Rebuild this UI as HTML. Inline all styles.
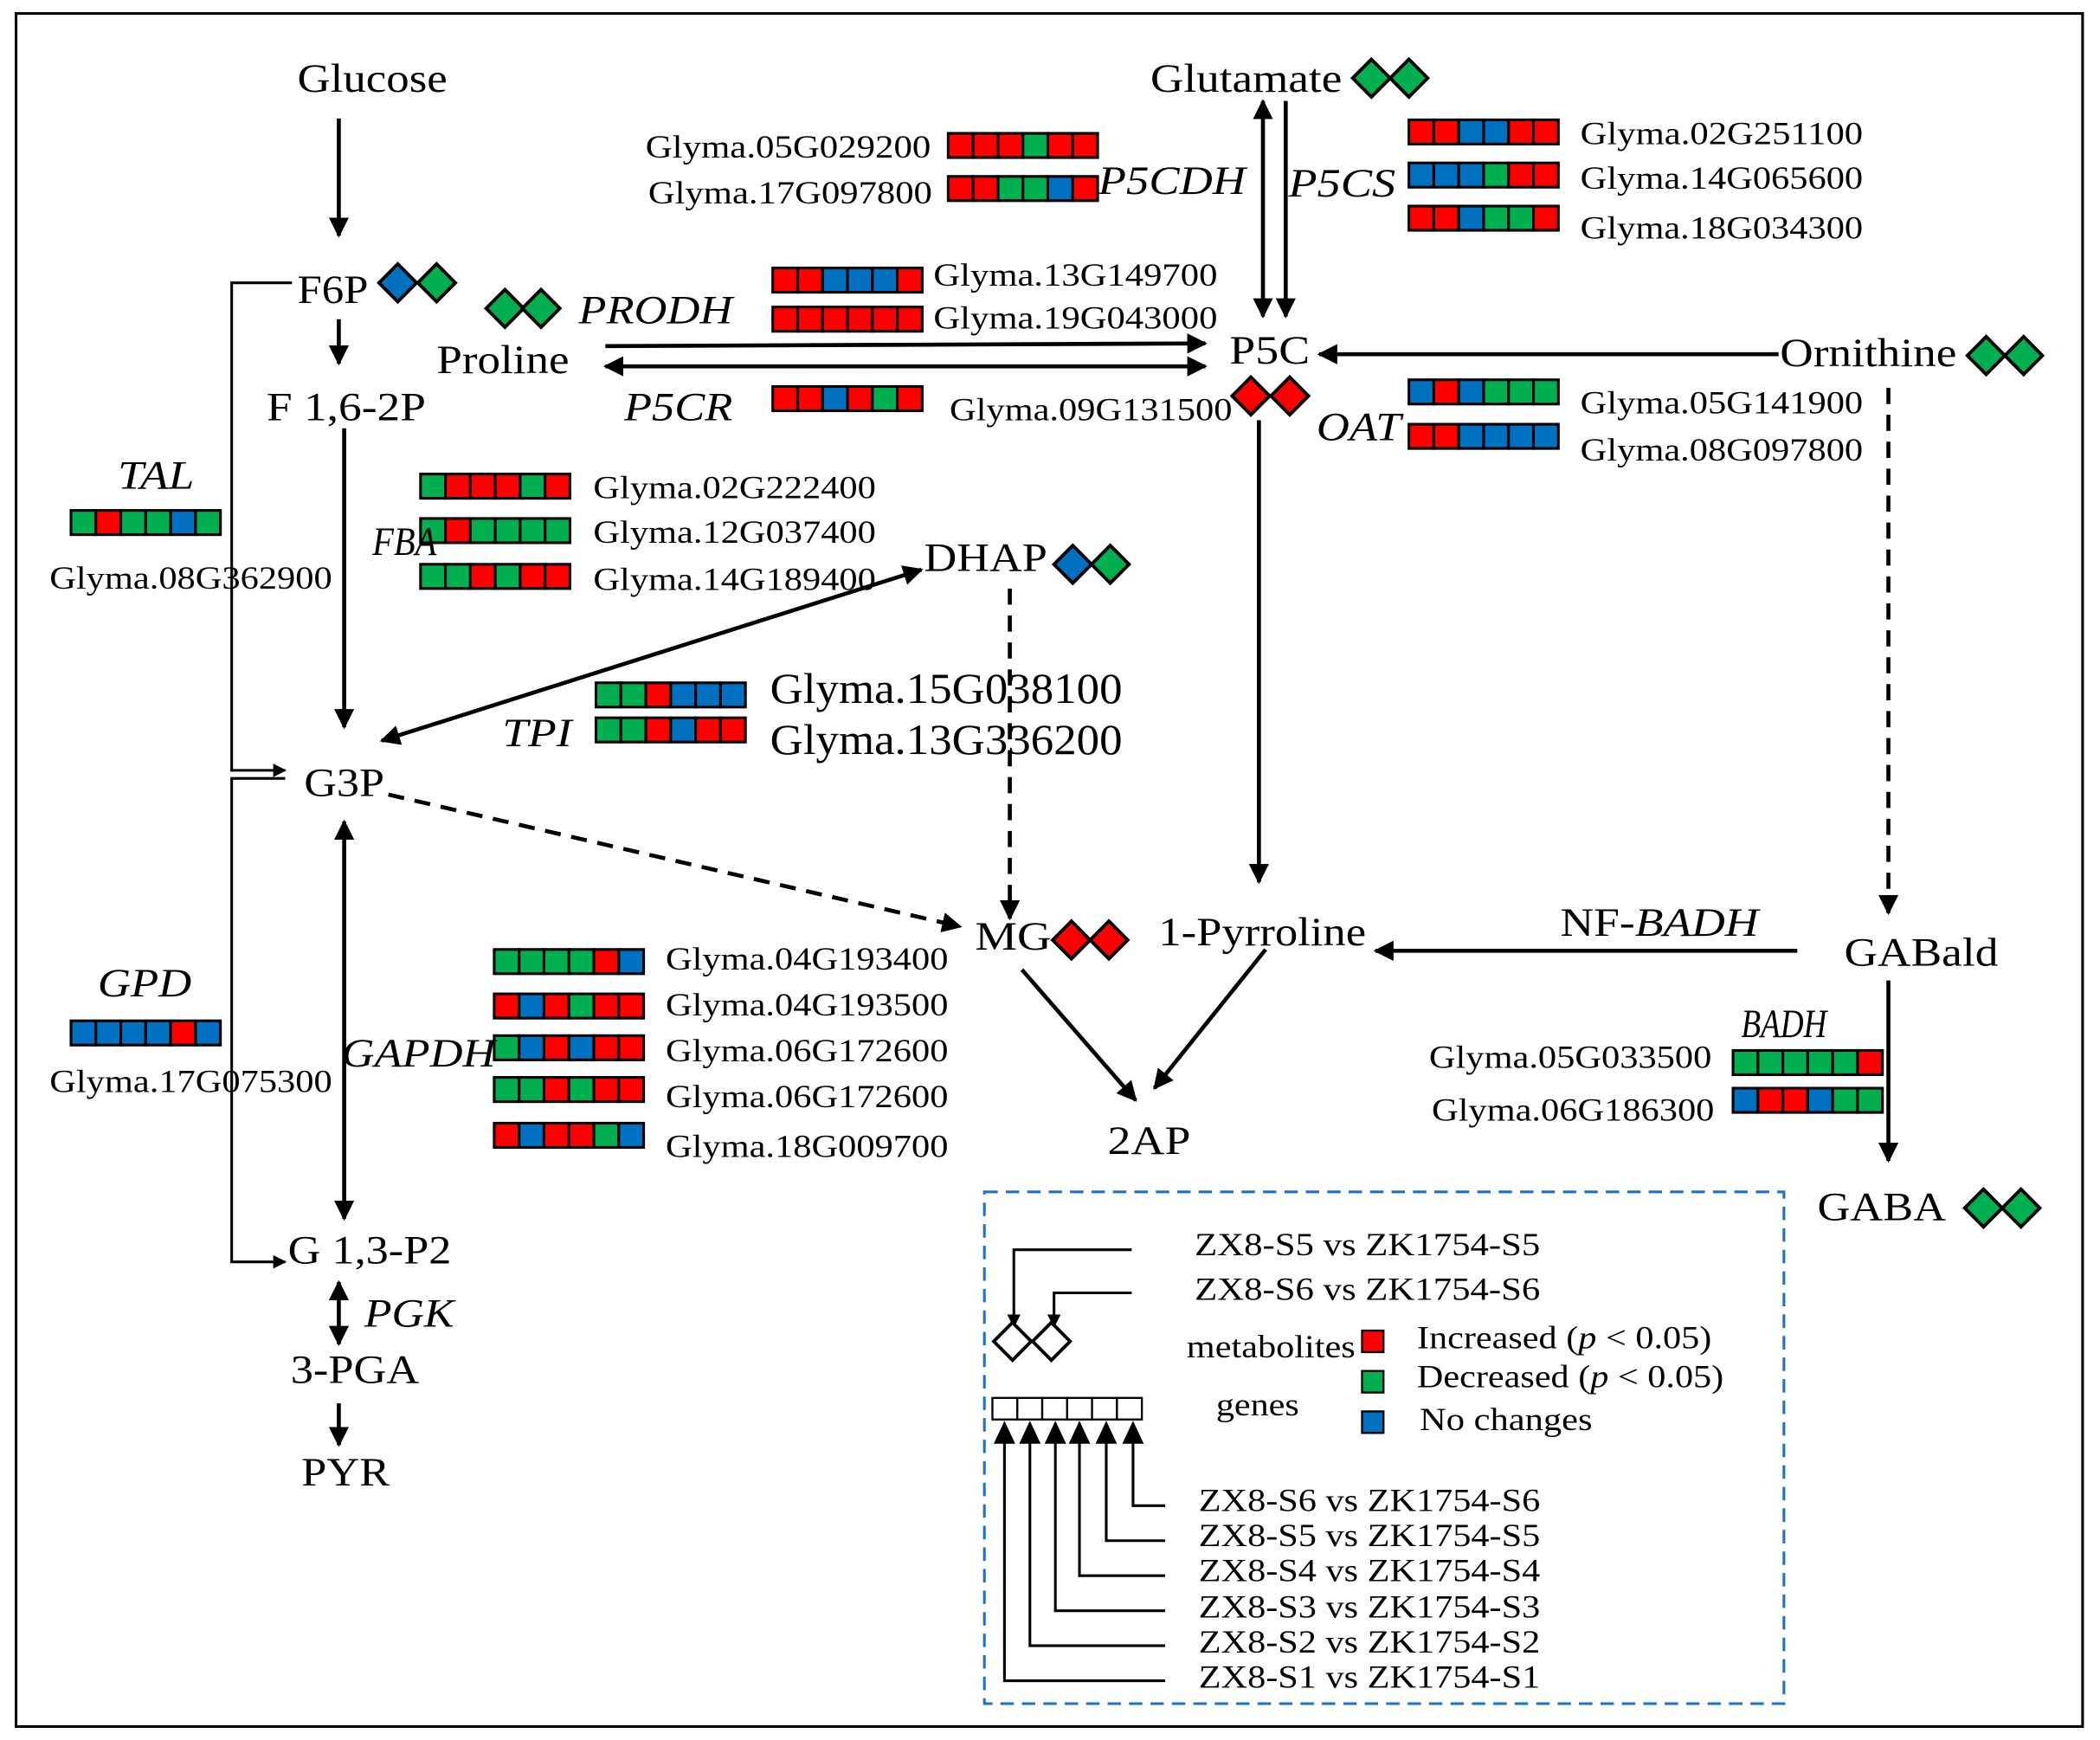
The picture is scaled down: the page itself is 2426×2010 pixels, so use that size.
<!DOCTYPE html>
<html><head><meta charset="utf-8"><style>
html,body{margin:0;padding:0;background:#fff;}
svg{display:block;}
.s{font-family:"Liberation Serif",serif;font-size:30px;fill:#000;}
.i{font-style:italic;}
.g{font-family:"Liberation Serif",serif;font-size:24px;fill:#000;}
.l{font-family:"Liberation Serif",serif;font-size:24px;fill:#000;}
</style></head><body>
<svg id="sv" width="2426" height="2010" viewBox="0 0 1568 1292" preserveAspectRatio="none" xmlns="http://www.w3.org/2000/svg">
<defs>
<marker id="a" viewBox="0 0 10 10" refX="9" refY="5" markerWidth="5" markerHeight="5" orient="auto-start-reverse" markerUnits="strokeWidth"><path d="M0,0 L10,5 L0,10 z" fill="#000"/></marker>
</defs>
<rect x="12" y="10" width="1543" height="1272" fill="#fff" stroke="#000" stroke-width="2"/>
<g stroke="#000" stroke-width="3" fill="none">
<line x1="253" y1="88" x2="253" y2="175" marker-end="url(#a)"/>
<line x1="253" y1="237" x2="253" y2="270" marker-end="url(#a)"/>
<line x1="257" y1="318" x2="257" y2="540" marker-end="url(#a)"/>
<line x1="285" y1="550" x2="688" y2="423" marker-start="url(#a)" marker-end="url(#a)"/>
<line x1="290" y1="590" x2="717" y2="688" stroke-dasharray="12,8" marker-end="url(#a)"/>
<line x1="257" y1="610" x2="257" y2="905" marker-start="url(#a)" marker-end="url(#a)"/>
<line x1="253" y1="952" x2="253" y2="998" marker-start="url(#a)" marker-end="url(#a)"/>
<line x1="253" y1="1042" x2="253" y2="1073" marker-end="url(#a)"/>
<polyline points="218,210 173,210 173,572 213,572" stroke-width="2" marker-end="url(#a)"/>
<polyline points="213,578 173,578 173,937 213,937" stroke-width="2" marker-end="url(#a)"/>
<line x1="754" y1="437" x2="754" y2="682" stroke-dasharray="12,8" marker-end="url(#a)"/>
<line x1="452" y1="257" x2="900" y2="255" marker-end="url(#a)"/>
<line x1="452" y1="272" x2="900" y2="272" marker-start="url(#a)" marker-end="url(#a)"/>
<line x1="943" y1="75" x2="943" y2="235" marker-start="url(#a)" marker-end="url(#a)"/>
<line x1="960" y1="75" x2="960" y2="235" marker-end="url(#a)"/>
<line x1="1328" y1="263" x2="985" y2="263" marker-end="url(#a)"/>
<line x1="1410" y1="288" x2="1410" y2="678" stroke-dasharray="12,8" marker-end="url(#a)"/>
<line x1="940" y1="312" x2="940" y2="655" marker-end="url(#a)"/>
<line x1="1342" y1="706" x2="1027" y2="706" marker-end="url(#a)"/>
<line x1="1410" y1="728" x2="1410" y2="862" marker-end="url(#a)"/>
<line x1="763" y1="720" x2="848" y2="817" marker-end="url(#a)"/>
<line x1="945" y1="705" x2="862" y2="808" marker-end="url(#a)"/>
</g>
<rect x="735" y="885" width="597" height="380" fill="none" stroke="#1a73c8" stroke-width="2" stroke-dasharray="10,6"/>
<g stroke="#000" stroke-width="2" fill="none">
<polyline points="845,928 757,928 757,985" marker-end="url(#a)"/>
<polyline points="845,960 787,960 787,985" marker-end="url(#a)"/>
</g>
<g id="boxes"></g>
<g class="s">
<text x="222" y="68" textLength="112" lengthAdjust="spacingAndGlyphs">Glucose</text>
<text x="222" y="225" textLength="53" lengthAdjust="spacingAndGlyphs">F6P</text>
<text x="326" y="277" textLength="99" lengthAdjust="spacingAndGlyphs">Proline</text>
<text x="199" y="312" textLength="119" lengthAdjust="spacingAndGlyphs">F 1,6-2P</text>
<text x="859" y="68" textLength="143" lengthAdjust="spacingAndGlyphs">Glutamate</text>
<text x="918" y="270" textLength="60" lengthAdjust="spacingAndGlyphs">P5C</text>
<text x="1329" y="272" textLength="132" lengthAdjust="spacingAndGlyphs">Ornithine</text>
<text x="690" y="424" textLength="92" lengthAdjust="spacingAndGlyphs">DHAP</text>
<text x="227" y="591" textLength="60" lengthAdjust="spacingAndGlyphs">G3P</text>
<text x="728" y="705" textLength="57" lengthAdjust="spacingAndGlyphs">MG</text>
<text x="865" y="702" textLength="155" lengthAdjust="spacingAndGlyphs">1-Pyrroline</text>
<text x="1377" y="717" textLength="115" lengthAdjust="spacingAndGlyphs">GABald</text>
<text x="827" y="857" textLength="62" lengthAdjust="spacingAndGlyphs">2AP</text>
<text x="1357" y="906" textLength="96" lengthAdjust="spacingAndGlyphs">GABA</text>
<text x="215" y="938" textLength="122" lengthAdjust="spacingAndGlyphs">G 1,3-P2</text>
<text x="217" y="1027" textLength="96" lengthAdjust="spacingAndGlyphs">3-PGA</text>
<text x="225" y="1103" textLength="66" lengthAdjust="spacingAndGlyphs">PYR</text>
<text x="1165" y="695" textLength="148" lengthAdjust="spacingAndGlyphs">NF-<tspan class="i">BADH</tspan></text>
<text class="i" x="432" y="240" textLength="115" lengthAdjust="spacingAndGlyphs">PRODH</text>
<text class="i" x="466" y="312" textLength="81" lengthAdjust="spacingAndGlyphs">P5CR</text>
<text class="i" x="820" y="144" textLength="110" lengthAdjust="spacingAndGlyphs">P5CDH</text>
<text class="i" x="962" y="146" textLength="80" lengthAdjust="spacingAndGlyphs">P5CS</text>
<text class="i" x="983" y="327" textLength="63" lengthAdjust="spacingAndGlyphs">OAT</text>
<text class="i" x="88" y="363" textLength="57" lengthAdjust="spacingAndGlyphs">TAL</text>
<text class="i" x="278" y="412" textLength="48" lengthAdjust="spacingAndGlyphs">FBA</text>
<text class="i" x="375" y="554" textLength="52" lengthAdjust="spacingAndGlyphs">TPI</text>
<text class="i" x="73" y="740" textLength="70" lengthAdjust="spacingAndGlyphs">GPD</text>
<text class="i" x="255" y="792" textLength="115" lengthAdjust="spacingAndGlyphs">GAPDH</text>
<text class="i" x="1300" y="770" textLength="64" lengthAdjust="spacingAndGlyphs">BADH</text>
<text class="i" x="272" y="985" textLength="67" lengthAdjust="spacingAndGlyphs">PGK</text>
<text x="575" y="522" style="font-size:32px" textLength="263" lengthAdjust="spacingAndGlyphs">Glyma.15G038100</text>
<text x="575" y="560" style="font-size:32px" textLength="263" lengthAdjust="spacingAndGlyphs">Glyma.13G336200</text>
</g>
<g class="g">
<text x="482" y="117" textLength="213" lengthAdjust="spacingAndGlyphs">Glyma.05G029200</text>
<text x="484" y="151" textLength="212" lengthAdjust="spacingAndGlyphs">Glyma.17G097800</text>
<text x="697" y="212" textLength="212" lengthAdjust="spacingAndGlyphs">Glyma.13G149700</text>
<text x="697" y="244" textLength="212" lengthAdjust="spacingAndGlyphs">Glyma.19G043000</text>
<text x="709" y="312" textLength="211" lengthAdjust="spacingAndGlyphs">Glyma.09G131500</text>
<text x="1180" y="107" textLength="211" lengthAdjust="spacingAndGlyphs">Glyma.02G251100</text>
<text x="1180" y="140" textLength="211" lengthAdjust="spacingAndGlyphs">Glyma.14G065600</text>
<text x="1180" y="177" textLength="211" lengthAdjust="spacingAndGlyphs">Glyma.18G034300</text>
<text x="1180" y="307" textLength="211" lengthAdjust="spacingAndGlyphs">Glyma.05G141900</text>
<text x="1180" y="342" textLength="211" lengthAdjust="spacingAndGlyphs">Glyma.08G097800</text>
<text x="37" y="437" textLength="211" lengthAdjust="spacingAndGlyphs">Glyma.08G362900</text>
<text x="443" y="370" textLength="211" lengthAdjust="spacingAndGlyphs">Glyma.02G222400</text>
<text x="443" y="403" textLength="211" lengthAdjust="spacingAndGlyphs">Glyma.12G037400</text>
<text x="443" y="438" textLength="211" lengthAdjust="spacingAndGlyphs">Glyma.14G189400</text>
<text x="37" y="811" textLength="211" lengthAdjust="spacingAndGlyphs">Glyma.17G075300</text>
<text x="497" y="720" textLength="211" lengthAdjust="spacingAndGlyphs">Glyma.04G193400</text>
<text x="497" y="754" textLength="211" lengthAdjust="spacingAndGlyphs">Glyma.04G193500</text>
<text x="497" y="788" textLength="211" lengthAdjust="spacingAndGlyphs">Glyma.06G172600</text>
<text x="497" y="822" textLength="211" lengthAdjust="spacingAndGlyphs">Glyma.06G172600</text>
<text x="497" y="859" textLength="211" lengthAdjust="spacingAndGlyphs">Glyma.18G009700</text>
<text x="1067" y="793" textLength="211" lengthAdjust="spacingAndGlyphs">Glyma.05G033500</text>
<text x="1069" y="832" textLength="211" lengthAdjust="spacingAndGlyphs">Glyma.06G186300</text>
</g>
<g class="l">
<text x="892" y="932" textLength="258" lengthAdjust="spacingAndGlyphs">ZX8-S5 vs ZK1754-S5</text>
<text x="892" y="965" textLength="258" lengthAdjust="spacingAndGlyphs">ZX8-S6 vs ZK1754-S6</text>
<text x="886" y="1008" textLength="126" lengthAdjust="spacingAndGlyphs">metabolites</text>
<text x="908" y="1051" textLength="62" lengthAdjust="spacingAndGlyphs">genes</text>
<text x="1058" y="1001" textLength="220" lengthAdjust="spacingAndGlyphs">Increased (<tspan class="i">p</tspan> &lt; 0.05)</text>
<text x="1058" y="1030" textLength="229" lengthAdjust="spacingAndGlyphs">Decreased (<tspan class="i">p</tspan> &lt; 0.05)</text>
<text x="1060" y="1062" textLength="129" lengthAdjust="spacingAndGlyphs">No changes</text>
<text x="895" y="1122" textLength="255" lengthAdjust="spacingAndGlyphs">ZX8-S6 vs ZK1754-S6</text>
<text x="895" y="1148" textLength="255" lengthAdjust="spacingAndGlyphs">ZX8-S5 vs ZK1754-S5</text>
<text x="895" y="1174" textLength="255" lengthAdjust="spacingAndGlyphs">ZX8-S4 vs ZK1754-S4</text>
<text x="895" y="1201" textLength="255" lengthAdjust="spacingAndGlyphs">ZX8-S3 vs ZK1754-S3</text>
<text x="895" y="1227" textLength="255" lengthAdjust="spacingAndGlyphs">ZX8-S2 vs ZK1754-S2</text>
<text x="895" y="1253" textLength="255" lengthAdjust="spacingAndGlyphs">ZX8-S1 vs ZK1754-S1</text>
</g>
</svg>
<script>
var C={R:"#ff0000",G:"#00b050",B:"#0070c0",W:"#fff"};
var ns="http://www.w3.org/2000/svg",g=document.getElementById("boxes");
function el(t,a){var e=document.createElementNS(ns,t);for(var k in a)e.setAttribute(k,a[k]);g.appendChild(e);return e;}
function row(x,y,s,w,h,sw){w=w||18.6;h=h||18;for(var i=0;i<6;i++)el("rect",{x:x+i*w,y:y,width:w,height:h,fill:C[s[i]],stroke:"#000","stroke-width":sw||2});}
function dia(x,y,c){el("path",{d:"M"+x+","+(y-14)+" L"+(x+14)+","+y+" L"+x+","+(y+14)+" L"+(x-14)+","+y+"z",fill:C[c],stroke:"#000","stroke-width":2.5});}
[[708,99,"RRRGRR"],[708,131,"RRGGBR"],[577,199,"RRBBBR"],[577,228,"RRRRRR"],[577,287,"RRBRGR"],
[1052,89,"RRBBRR"],[1052,121,"BBBGRR"],[1052,153,"RRBGGR"],[1052,282,"BRBGGG"],[1052,315,"RRBBBB"],
[53,379,"GRGGBG"],[314,352,"GRRRGR"],[314,385,"GRGGGG"],[314,419,"GGRGRR"],[445,507,"GGRBBB"],[445,533,"GGRBRR"],
[53,758,"BBBBRB"],[369,705,"GGGGRB"],[369,738,"RBRGRR"],[369,769,"GBRBRR"],[369,800,"GGRGRR"],[369,834,"RBRRGB"],
[1294,780,"GGGGGR"],[1294,808,"BRRBGG"]].forEach(function(r){row(r[0],r[1],r[2]);});
row(741,1038,"WWWWWW",18.6,16,1.5);
[[297,210,"B"],[326,210,"G"],[377,229,"G"],[404,229,"G"],[1024,58,"G"],[1052,58,"G"],[934,294,"R"],[963,294,"R"],
[1483,264,"G"],[1511,264,"G"],[801,419,"B"],[829,419,"G"],[800,698,"R"],[828,698,"R"],[1481,897,"G"],[1509,897,"G"],
[756,996,"W"],[785,996,"W"]].forEach(function(d){dia(d[0],d[1],d[2]);});
[[1017,988,"R"],[1017,1018,"G"],[1017,1048,"B"]].forEach(function(s){el("rect",{x:s[0],y:s[1],width:16,height:16,fill:C[s[2]],stroke:"#000","stroke-width":1.5});});
var xs=[750,769,788,806,826,846],ys=[1248,1222,1196,1170,1144,1118];
for(var i=0;i<6;i++){el("polyline",{points:"870,"+ys[i]+" "+xs[i]+","+ys[i]+" "+xs[i]+",1058",fill:"none",stroke:"#000","stroke-width":2});
el("path",{d:"M"+(xs[i]-8)+",1072 L"+xs[i]+",1055 L"+(xs[i]+8)+",1072z",fill:"#000"});}
</script>
</body></html>
